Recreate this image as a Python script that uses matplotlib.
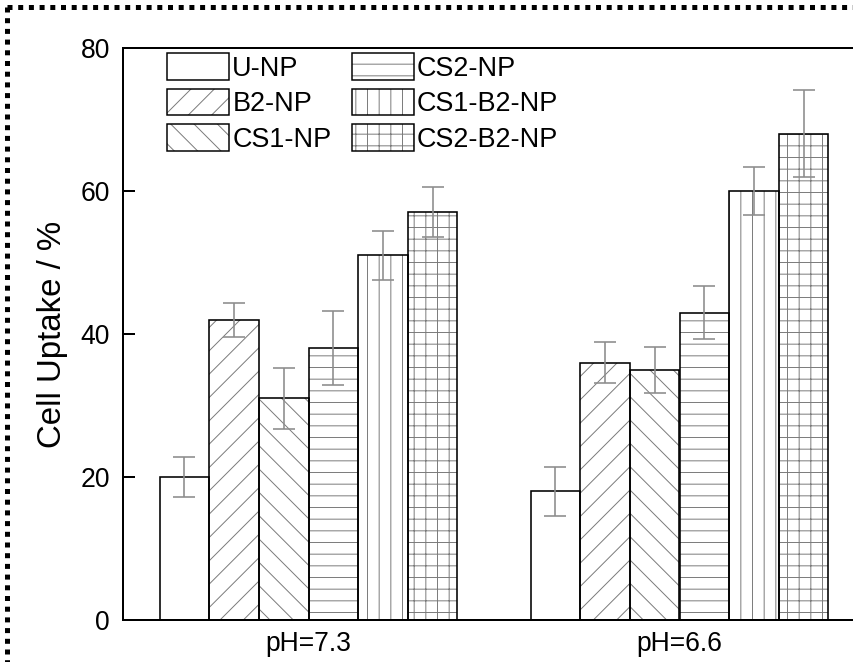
import matplotlib
matplotlib.use("Agg")
import matplotlib.pyplot as plt
from matplotlib.patches import Patch
from matplotlib.lines import Line2D
from matplotlib.legend_handler import HandlerTuple
import numpy as np

groups = ['pH=7.3', 'pH=6.6']
series = ['U-NP', 'B2-NP', 'CS1-NP', 'CS2-NP', 'CS1-B2-NP', 'CS2-B2-NP']
vals_73 = [20, 42, 31, 38, 51, 57]
vals_66 = [18, 36, 35, 43, 60, 68]
err_73 = [2.8, 2.4, 4.3, 5.2, 3.4, 3.5]
err_66 = [3.4, 2.9, 3.2, 3.7, 3.4, 6.1]
hatches = ['', '/', '\\', '-', '|', '+']

DPI = 70
W, H = 853, 662
plt.rcParams['font.family'] = ['Liberation Sans', 'DejaVu Sans']
plt.rcParams['hatch.linewidth'] = 1.0

def px(v):
    return v * 72.0 / DPI

fig = plt.figure(figsize=(W / DPI, H / DPI), dpi=DPI)
ax = fig.add_axes([123 / W, (H - 620) / H, (865 - 123) / W, (620 - 48) / H])

data = np.array([vals_73, vals_66])
errs = np.array([err_73, err_66])
x = np.arange(len(groups))
w = 0.1337
hatch_col = '#7a7a7a'
err_col = '#8c8c8c'

for j, name in enumerate(series):
    pos = x + (j - 2.5) * w
    ax.bar(pos, data[:, j], w, color='white', edgecolor=hatch_col,
           linewidth=0, hatch=hatches[j], zorder=2)
    ax.bar(pos, data[:, j], w, fill=False, edgecolor='black',
           linewidth=px(1.6), zorder=3)
    ax.errorbar(pos, data[:, j], yerr=errs[:, j], fmt='none',
                ecolor=err_col, elinewidth=px(1.6), capsize=px(11),
                capthick=px(1.6), zorder=4)

ax.set_xlim(-0.5, 1.5)
ax.set_ylim(0, 80)
ax.set_yticks([0, 20, 40, 60, 80])
ax.set_xticks(x)
ax.set_xticklabels(groups)
ax.tick_params(axis='y', direction='in', length=px(12), width=px(2),
               labelsize=px(26.5), pad=px(13))
ax.tick_params(axis='x', length=0, labelsize=px(26.5), pad=px(11))
for s in ax.spines.values():
    s.set_linewidth(px(2))
ax.set_ylabel('Cell Uptake / %', fontsize=px(33), labelpad=px(12))

handles = []
for j, name in enumerate(series):
    h1 = Patch(facecolor='white', edgecolor=hatch_col, linewidth=0, hatch=hatches[j])
    h2 = Patch(fill=False, edgecolor='black', linewidth=px(1.5))
    handles.append((h1, h2))

fs = px(27)
leg = ax.legend(handles, series, handler_map={tuple: HandlerTuple(ndivide=1)},
                ncol=2, loc='upper left',
                bbox_to_anchor=(167 / W, 1 - 53 / H), bbox_transform=fig.transFigure,
                frameon=False, fontsize=fs, borderpad=0, borderaxespad=0,
                handlelength=2.3, handleheight=1.15, labelspacing=0.26,
                handletextpad=0.12, columnspacing=0.75)

# dotted border (top and left visible)
fig.add_artist(Line2D([7 / W, 1.02], [1 - 7 / H, 1 - 7 / H], transform=fig.transFigure,
                      color='black', linewidth=px(5), linestyle=(0, (1, 1.14)),
                      dash_capstyle='butt'))
fig.add_artist(Line2D([7 / W, 7 / W], [1 - 7 / H, -0.02], transform=fig.transFigure,
                      color='black', linewidth=px(5), linestyle=(0, (1, 1.14)),
                      dash_capstyle='butt'))

fig.savefig('out.png', dpi=DPI)
